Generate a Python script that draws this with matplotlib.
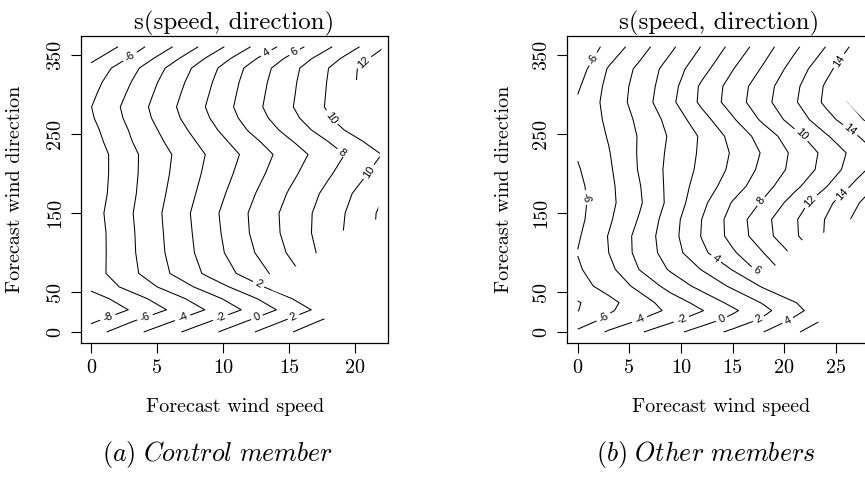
import numpy as np
import matplotlib
matplotlib.use("Agg")
import matplotlib.pyplot as plt
from matplotlib.path import Path
from matplotlib.patches import PathPatch

plt.rcParams['font.family'] = ['cmr10']
plt.rcParams['mathtext.fontset'] = 'cm'
plt.rcParams['axes.formatter.use_mathtext'] = True

# ------------------------------------------------------------------ data
# (a) control member: smooth s(speed, direction) read on a speed x direction grid
speed_left = [0, 3, 6, 9, 12, 15, 18, 21, 24]
direction_left = [0, 14, 28, 42, 57, 74, 100, 125, 150, 175, 200, 224, 240,
                  255, 270, 284, 300, 315, 333, 345, 360]
smooth_left = [
    [-6.86, -4.69, -2.60, -0.47, 1.71, 3.79, 5.86, 8.00, 10.00],
    [-8.40, -6.20, -4.20, -2.09, 0.11, 2.33, 4.52, 6.74, 8.96],
    [-9.95, -7.88, -5.81, -3.74, -1.55, 0.72, 3.00, 5.31, 7.60],
    [-8.95, -6.88, -4.82, -2.69, -0.45, 1.81, 4.12, 6.42, 8.73],
    [-7.47, -5.40, -3.30, -1.09, 1.17, 3.46, 5.77, 8.08, 10.38],
    [-6.90, -4.52, -1.98, 0.50, 2.75, 5.25, 7.83, 10.40, 12.90],
    [-7.03, -4.35, -1.64, 1.04, 3.65, 6.18, 8.83, 11.33, 13.83],
    [-7.04, -4.30, -1.52, 1.21, 4.00, 6.58, 9.08, 11.58, 14.08],
    [-6.88, -4.18, -1.42, 1.37, 4.09, 6.64, 8.96, 11.45, 14.20],
    [-7.13, -4.39, -1.71, 0.93, 3.60, 6.14, 8.55, 10.97, 13.38],
    [-7.22, -4.48, -1.96, 0.54, 3.01, 5.47, 7.76, 10.03, 12.29],
    [-7.22, -4.48, -2.10, 0.27, 2.58, 4.95, 7.13, 9.28, 11.42],
    [-6.86, -4.12, -1.61, 0.85, 3.33, 5.74, 8.00, 10.25, 12.50],
    [-6.58, -3.84, -1.15, 1.46, 4.16, 6.64, 9.05, 11.47, 13.88],
    [-6.22, -3.47, -0.68, 2.00, 4.78, 7.33, 9.83, 12.33, 14.83],
    [-6.04, -3.28, -0.44, 2.31, 5.12, 7.72, 10.27, 12.83, 15.38],
    [-6.40, -3.66, -0.74, 2.06, 4.95, 7.59, 10.20, 12.81, 15.42],
    [-6.76, -4.03, -1.06, 1.81, 4.77, 7.48, 10.13, 12.80, 15.46],
    [-7.40, -4.67, -1.61, 1.38, 4.43, 7.25, 10.00, 12.75, 15.50],
    [-8.49, -5.76, -2.69, 0.41, 3.46, 6.39, 9.18, 11.97, 14.75],
    [-10.05, -7.05, -4.19, -1.10, 1.90, 4.90, 7.73, 10.63, 13.80],
]
levels_left = [-8, -6, -4, -2, 0, 2, 4, 6, 8, 10, 12, 14]
# region covered by data (speed, direction); outside it the smooth is not drawn
coverage_left = [(-2, -20), (18.3, -20), (17.9, 13), (17.0, 29), (15.6, 41),
                 (13.7, 53), (13.5, 82), (16.3, 83), (17.4, 106), (19.1, 128),
                 (21.75, 143), (21.9, 232), (21.0, 246), (19.4, 262),
                 (19.4, 318), (22.0, 318), (22.0, 380), (-2, 380)]
label_speed_left = [1.31, 4.14, 7.0, 9.9, 12.68, 15.45, 12.68, 2.95, 13.3,
                    15.45, 18.36, 18.86, 21.0, 20.76]
label_dir_left = [16.8, 16.8, 15.5, 15.5, 14.7, 15.5, 59.7, 347.5, 351.7,
                  352.5, 271.8, 223.5, 202.5, 339.0]

# (b) other members
speed_right = [0, 3, 6, 9, 12, 15, 18, 21, 24, 27, 30]
direction_right = [0, 16, 27, 37, 58, 79, 100, 121, 142, 163, 184, 205, 226,
                   247, 268, 290, 310, 332, 360]
smooth_right = [
    [-5.67, -3.74, -2.21, -0.67, 0.89, 2.46, 4.00, 5.71, 7.35, 8.95, 10.53],
    [-7.13, -5.59, -4.05, -2.55, -1.03, 0.56, 2.27, 4.25, 6.13, 8.00, 9.88],
    [-8.06, -6.24, -4.94, -3.64, -2.10, -0.35, 1.50, 3.42, 5.27, 7.09, 8.91],
    [-8.16, -6.58, -4.85, -3.09, -1.31, 0.50, 2.17, 3.89, 5.70, 7.52, 9.33],
    [-6.77, -5.23, -3.50, -1.23, 0.61, 2.32, 4.26, 6.19, 8.13, 10.06, 12.00],
    [-6.25, -4.56, -1.93, 0.24, 2.07, 4.10, 6.80, 9.20, 11.60, 14.00, 16.40],
    [-5.94, -4.00, -1.36, 1.00, 3.55, 5.72, 8.00, 10.42, 12.92, 15.36, 17.76],
    [-6.23, -3.91, -1.33, 1.25, 4.09, 6.67, 9.22, 11.68, 14.16, 16.56, 18.96],
    [-6.52, -4.30, -1.81, 1.10, 4.00, 6.78, 9.39, 11.77, 14.08, 16.48, 18.88],
    [-6.60, -4.55, -2.24, 0.59, 3.50, 6.14, 8.29, 10.89, 13.43, 15.78, 18.16],
    [-6.46, -4.49, -2.09, 0.61, 2.90, 5.04, 7.24, 9.52, 11.85, 14.56, 16.96],
    [-6.17, -4.31, -1.82, 0.61, 2.45, 4.43, 6.55, 8.60, 10.72, 13.22, 15.62],
    [-5.83, -4.11, -1.77, 0.44, 2.31, 4.20, 6.23, 8.45, 10.50, 12.75, 14.67],
    [-5.65, -3.86, -1.82, 0.26, 2.25, 4.62, 6.87, 9.31, 11.75, 13.86, 15.93],
    [-5.65, -3.57, -1.57, 0.67, 3.22, 5.75, 8.42, 10.88, 13.23, 15.48, 17.84],
    [-5.74, -3.31, -1.12, 1.52, 4.42, 6.92, 9.36, 11.76, 14.37, 16.62, 18.92],
    [-6.27, -3.43, -1.23, 1.22, 4.33, 6.77, 9.17, 11.54, 14.21, 16.40, 18.80],
    [-6.97, -3.81, -1.52, 0.88, 3.28, 5.91, 8.27, 10.85, 13.43, 15.78, 18.16],
    [-7.76, -5.36, -2.87, -0.40, 2.08, 4.58, 7.13, 9.60, 12.00, 14.61, 17.22],
]
levels_right = [-8, -6, -4, -2, 0, 2, 4, 6, 8, 10, 12, 14, 16, 18]
coverage_right = [(-2, -20), (23.6, -20), (23.5, 10), (22.2, 27), (21.4, 38),
                  (19.6, 48), (16.2, 70), (18.2, 77), (19.7, 88), (20.5, 106),
                  (21.9, 117), (24.0, 126), (26.5, 143), (28.8, 150),
                  (31, 150), (31, 262), (28.2, 262), (26.3, 287), (25.6, 300),
                  (26.0, 330), (26.6, 345), (27.5, 380), (-2, 380)]
label_speed_right = [1.55, 0.84, 2.52, 6.0, 10.1, 14.0, 17.6, 20.4, 13.5,
                     17.5, 17.7, 21.7, 22.5, 25.3, 26.3, 25.6]
label_dir_right = [344.0, 169.7, 18.4, 15.5, 14.3, 14.3, 14.3, 13.0, 94.1,
                   81.5, 165.5, 249.5, 165.5, 342.0, 253.7, 174.0]

W, H = 865, 484


def panel(ax, speed, direction, z, levels, coverage, lab_s, lab_d,
          xlim, xticks):
    S, D = np.meshgrid(speed, direction)
    cs = ax.contour(S, D, np.array(z), levels=levels, colors='black',
                    linewidths=0.75, linestyles='solid')
    verts = list(coverage) + [coverage[0]]
    clip = PathPatch(Path(verts, closed=True), transform=ax.transData,
                     facecolor='none', edgecolor='none')
    cs.set_clip_path(clip)
    old = plt.rcParams['font.family']
    plt.rcParams['font.family'] = ['Liberation Sans']
    ax.clabel(cs, manual=list(zip(lab_s, lab_d)), inline=True,
              inline_spacing=3, fmt='%d', fontsize=8)
    plt.rcParams['font.family'] = old
    ax.set_xlim(*xlim)
    ax.set_ylim(-13.5, 373.5)
    ax.set_xticks(xticks)
    ax.set_xticklabels([str(t) for t in xticks])
    yt = [0, 50, 150, 250, 350]
    ax.set_yticks(yt)
    ax.set_yticklabels([str(t) for t in yt], rotation=90, va='center')
    ax.tick_params(direction='out', length=7, width=0.8, labelsize=14.5, pad=5)
    for sp in ax.spines.values():
        sp.set_linewidth(0.9)
    ax.set_title('s(speed, direction)', fontsize=18, pad=4)


fig = plt.figure(figsize=(W / 100, H / 100), dpi=100)
bottom = 1 - 342.7 / H
height = 306.7 / H
ax1 = fig.add_axes([80.7 / W, bottom, 307 / W, height])
ax2 = fig.add_axes([567 / W, bottom, 304 / W, height])

panel(ax1, speed_left, direction_left, smooth_left, levels_left, coverage_left,
      label_speed_left, label_dir_left, (-0.78, 22.48), [0, 5, 10, 15, 20])
panel(ax2, speed_right, direction_right, smooth_right, levels_right,
      coverage_right, label_speed_right, label_dir_right,
      (-1.04, 28.4), [0, 5, 10, 15, 20, 25])

for cx, lab in [(235, 'Forecast wind speed'), (721, 'Forecast wind speed')]:
    fig.text(cx / W, 1 - 407 / H, lab, ha='center', va='center',
             fontsize=14.5)
for cx in (15, 503.7):
    fig.text(cx / W, 1 - 189.3 / H, 'Forecast wind direction', ha='center',
             va='center', rotation=90, fontsize=14.5)
fig.text(218 / W, 1 - 455 / H, r'$\mathit{(a)\ Control\ member}$',
         ha='center', va='center', fontsize=18.7)
fig.text(706 / W, 1 - 455 / H, r'$\mathit{(b)\ Other\ members}$',
         ha='center', va='center', fontsize=18.7)

fig.savefig('out.png', dpi=100)
